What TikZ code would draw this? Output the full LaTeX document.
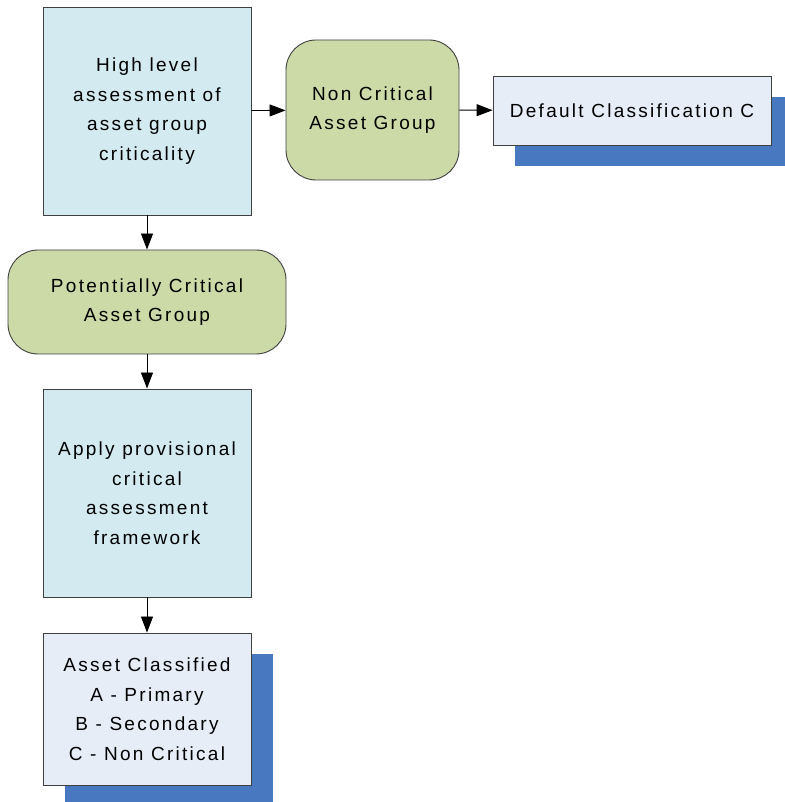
\documentclass[tikz,border=0pt]{standalone}
\usepackage{fontspec}
\setmainfont{Liberation Sans}[LetterSpace=12]
\usetikzlibrary{arrows.meta,shadows}

\definecolor{taskcyan}{HTML}{D3EAF0}
\definecolor{groupgreen}{HTML}{CCDAA8}
\definecolor{resultblue}{HTML}{E6EDF7}
\definecolor{shadowblue}{HTML}{4878C0}
\definecolor{edgegray}{HTML}{404040}

\tikzset{
  box/.style={draw=edgegray, line width=0.9pt, align=center, inner sep=0pt,
    font=\fontsize{19}{29.5}\selectfont},
  taskbox/.style={box, fill=taskcyan, minimum width=208pt, minimum height=208pt},
  groupbox/.style={box, fill=groupgreen, rounded corners=30pt},
  resultbox/.style={box, fill=resultblue,
    general shadow={fill=shadowblue, shadow xshift=22pt, shadow yshift=-21pt}},
  flow/.style={line width=0.9pt, -{Triangle[length=16pt,width=12pt]}}
}

\begin{document}
\begin{tikzpicture}[x=1pt,y=1pt]
\useasboundingbox (0,0) rectangle (784,802);
\node[taskbox] (high) at (147,691) {High level\\assessment of\\asset group\\criticality};
\node[groupbox, minimum width=173pt, minimum height=140pt] (noncrit) at (372.5,692) {Non Critical\\Asset Group};
\node[resultbox, minimum width=278pt, minimum height=69pt] (dflt) at (632,691.5) {Default Classification C};
\node[groupbox, minimum width=278pt, minimum height=104pt] (potcrit) at (147,500) {Potentially Critical\\Asset Group};
\node[taskbox] (apply) at (147,309) {Apply provisional\\critical\\assessment\\framework};
\node[resultbox, minimum width=208pt, minimum height=152pt] (classified) at (147,93) {Asset Classified\\A - Primary\\B - Secondary\\C - Non Critical};
\draw[flow] (high) -- (noncrit);
\draw[flow] (noncrit) -- (dflt);
\draw[flow] (high) -- (potcrit);
\draw[flow] (potcrit) -- (apply);
\draw[flow] (apply) -- (classified);
\end{tikzpicture}
\end{document}
